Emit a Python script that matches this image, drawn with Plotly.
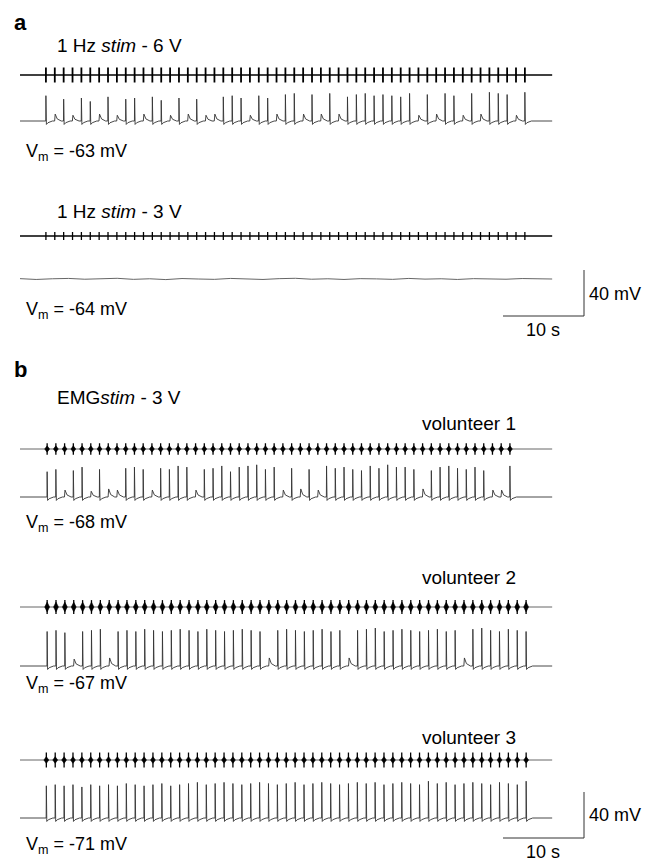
import plotly.graph_objects as go

# ---------------- data ----------------
TRACE_END = 65.7          # s, length of every sweep
# 1 Hz stimulation (panel a): first stimulus time and period (s)
A_STIM_START = 3.2
A_STIM_PERIOD = 1.095
A_STIM_COUNT = 55
# response amplitude (mV above baseline) to each stimulus, 6 V
a1_amp = [22, 6, 19, 5, 20, 17, 6, 21, 5, 19, 20, 6, 21, 18, 5, 20, 6, 19, 5, 6,
          21, 22, 20, 5, 22, 20, 6, 23, 24, 6, 23, 6, 24, 6, 21, 23, 24, 22, 23, 22,
          21, 24, 5, 23, 6, 24, 22, 5, 24, 6, 25, 24, 23, 5, 25]
# 3 V: no spikes, only baseline wander (mV), one value every 2 s
a2_wander = [0.3, -0.4, 0.2, 0.5, -0.2, 0.1, 0.6, -0.3, 0.2, -0.5, 0.4, 0.0, -0.3, 0.5,
             0.1, -0.4, 0.3, 0.6, -0.2, 0.2, -0.4, 0.3, 0.1, -0.3, 0.5, -0.1, 0.2, -0.4,
             0.3, 0.0, -0.2, 0.4, 0.1, 0.0]

# EMG-triggered stimulation (panel b): bursts per volunteer
b_burst_start = [3.35, 3.35, 3.25]
b_burst_period = [1.078, 1.095, 1.097]
b_burst_count = [54, 55, 55]
b1_vm_amp = [22, 24, 6, 23, 26, 5, 24, 7, 6, 25, 26, 24, 6, 25, 24, 27, 26, 6, 24, 25,
             27, 22, 26, 27, 28, 24, 26, 6, 25, 7, 24, 6, 27, 25, 26, 24, 23, 27, 25, 28,
             26, 26, 24, 7, 23, 26, 27, 25, 24, 26, 23, 6, 6, 27]
b2_vm_amp = [30, 31, 29, 6, 30, 31, 32, 7, 30, 31, 30, 32, 31, 30, 31, 32, 31, 30, 32, 31,
             30, 31, 32, 31, 30, 7, 31, 32, 31, 30, 31, 32, 30, 31, 7, 31, 32, 33, 30, 31,
             32, 31, 30, 31, 32, 30, 31, 7, 32, 33, 31, 30, 32, 31, 30]
b3_vm_amp = [28, 29, 28, 29, 27, 29, 28, 29, 28, 30, 29, 28, 29, 30, 28, 29, 30, 31, 29, 30,
             31, 30, 29, 30, 31, 30, 29, 30, 31, 29, 30, 31, 30, 29, 30, 31, 30, 31, 29, 30,
             31, 30, 29, 32, 30, 31, 29, 30, 31, 30, 29, 31, 30, 29, 32]
b_emg_amp = [5.0, 6.0, 6.5]   # half height of the EMG bursts (mV units on screen)
b_emg_body = [0.55, 0.7, 0.45]  # relative height of the dense burst body

LABELS_A = ["1 Hz <i>stim</i> - 6 V", "1 Hz <i>stim</i> - 3 V"]
LABEL_B = "EMG<i>stim</i> - 3 V"
VOLUNTEERS = ["volunteer 1", "volunteer 2", "volunteer 3"]
VM_LABELS = ["V<sub>m</sub> = -63 mV", "V<sub>m</sub> = -64 mV", "V<sub>m</sub> = -68 mV",
             "V<sub>m</sub> = -67 mV", "V<sub>m</sub> = -71 mV"]

# ---------------- layout constants (pixels) ----------------
W, H = 646, 858
PX_PER_S = 8.1
PX_PER_MV = 1.15
X0 = 20.0
def Y(py):
    return -py / PX_PER_MV

FONT = "Arial, Liberation Sans, sans-serif"
fig = go.Figure()

def stim_line(row_py, half_px, times, width):
    y0 = Y(row_py)
    fig.add_trace(go.Scatter(x=[0, TRACE_END], y=[y0, y0], mode="lines",
                             line=dict(color="black", width=1.5), hoverinfo="skip"))
    xs, ys = [], []
    for t in times:
        xs += [t, t, None]
        ys += [y0 - half_px / PX_PER_MV, y0 + half_px / PX_PER_MV, None]
    fig.add_trace(go.Scatter(x=xs, y=ys, mode="lines",
                             line=dict(color="black", width=width), hoverinfo="skip"))

def vm_trace(row_py, times, amps):
    b = Y(row_py)
    xs, ys = [0.0], [b]
    for t, a in zip(times, amps):
        if a > 10:
            xs += [t - 0.02, t, t + 0.06, t + 0.25, t + 0.8]
            ys += [b, b + a, b - 3.0, b - 1.5, b]
        else:
            xs += [t - 0.02, t + 0.05, t + 0.3, t + 0.8]
            ys += [b, b + a, b + a * 0.3, b]
    xs.append(TRACE_END)
    ys.append(b)
    fig.add_trace(go.Scatter(x=xs, y=ys, mode="lines",
                             line=dict(color="#333333", width=0.9), hoverinfo="skip"))

def emg_trace(row_py, times, half, body):
    y0 = Y(row_py)
    fig.add_trace(go.Scatter(x=[0, TRACE_END], y=[y0, y0], mode="lines",
                             line=dict(color="#555555", width=0.9), hoverinfo="skip"))
    xs, ys = [], []
    w = 0.3
    for t in times:
        xs += [t - w, t, t + w, t, t - w, None]
        ys += [y0, y0 + half * body, y0, y0 - half * body, y0, None]
    fig.add_trace(go.Scatter(x=xs, y=ys, mode="lines", fill="toself", fillcolor="black",
                             line=dict(color="black", width=0.6), hoverinfo="skip"))
    xs, ys = [], []
    for t in times:
        xs += [t, t, None]
        ys += [y0 - half, y0 + half, None]
    fig.add_trace(go.Scatter(x=xs, y=ys, mode="lines",
                             line=dict(color="black", width=1.3), hoverinfo="skip"))

a_times = [A_STIM_START + i * A_STIM_PERIOD for i in range(A_STIM_COUNT)]

# panel a
stim_line(75, 7.5, a_times, 1.8)
vm_trace(121, a_times, a1_amp)
stim_line(236, 4.0, a_times, 1.3)
b2 = Y(279)
xs = [i * 2.0 for i in range(len(a2_wander))]
xs[-1] = TRACE_END
fig.add_trace(go.Scatter(x=xs, y=[b2 + v for v in a2_wander], mode="lines",
                         line=dict(color="#555555", width=0.9), hoverinfo="skip"))

# panel b
rows_emg = [449, 607, 760]
rows_vm = [497, 666, 818]
vm_amps = [b1_vm_amp, b2_vm_amp, b3_vm_amp]
for k in range(3):
    times = [b_burst_start[k] + i * b_burst_period[k] for i in range(b_burst_count[k])]
    emg_trace(rows_emg[k], times, b_emg_amp[k], b_emg_body[k])
    vm_trace(rows_vm[k], times, vm_amps[k])

# scale bars (10 s, 40 mV)
for bar_py in [316, 838]:
    xr = (584 - X0) / PX_PER_S
    fig.add_trace(go.Scatter(x=[xr - 10, xr, xr], y=[Y(bar_py), Y(bar_py), Y(bar_py) + 40],
                             mode="lines", line=dict(color="#333333", width=1.0),
                             hoverinfo="skip"))

ann = []
def txt(px, py, s, size=18, anchor="left"):
    ann.append(dict(x=px / W, y=1 - py / H, xref="paper", yref="paper", text=s,
                    showarrow=False, xanchor=anchor, yanchor="middle",
                    font=dict(family=FONT, size=size, color="black")))

txt(12, 22, "<b>a</b>", size=22)
txt(12, 370, "<b>b</b>", size=22)
txt(55, 45, LABELS_A[0], size=19)
txt(55, 212, LABELS_A[1], size=19)
txt(55, 398, LABEL_B, size=19)
txt(420, 424, VOLUNTEERS[0], size=19)
txt(420, 577, VOLUNTEERS[1], size=19)
txt(420, 737, VOLUNTEERS[2], size=19)
for py, s in zip([152, 310, 523, 684, 845], VM_LABELS):
    txt(24, py, s, size=18)
txt(587, 294, "40 mV")
txt(587, 815, "40 mV")
txt(543, 330, "10 s", anchor="center")
txt(543, 852, "10 s", anchor="center")

fig.update_layout(
    width=W, height=H, margin=dict(l=0, r=0, t=0, b=0),
    paper_bgcolor="white", plot_bgcolor="white", showlegend=False,
    annotations=ann,
    xaxis=dict(range=[-X0 / PX_PER_S, (W - X0) / PX_PER_S], visible=False, fixedrange=True),
    yaxis=dict(range=[Y(H), 0], visible=False, fixedrange=True),
)
fig.write_html("out.html", config={"displayModeBar": False},
               post_script="document.body.style.margin='0';document.body.style.overflow='hidden';")
